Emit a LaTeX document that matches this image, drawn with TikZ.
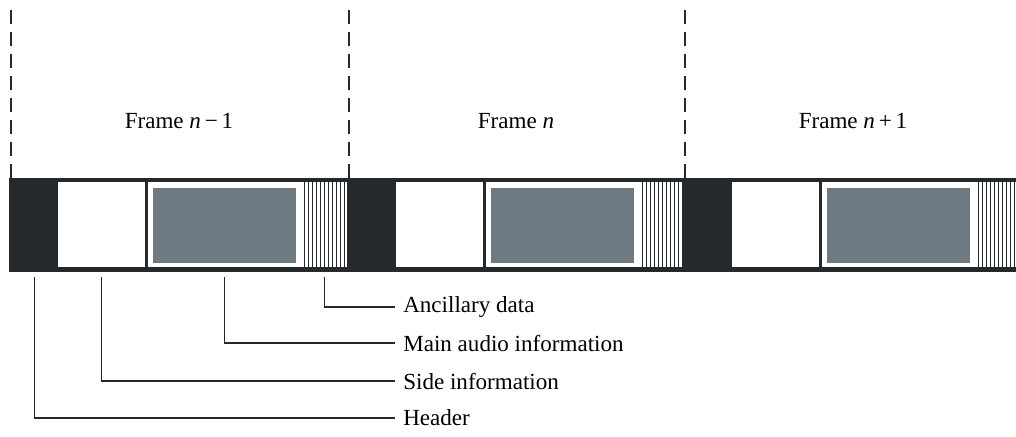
\documentclass[tikz,border=0pt]{standalone}
\usepackage{fontspec}
\setmainfont{Liberation Serif}
\newcommand\pxu{0.025cm}
\definecolor{bardark}{HTML}{25292C}
\definecolor{audiogrey}{HTML}{6E7A81}
\tikzset{%
cell/.style={anchor=north west,inner sep=0pt,draw=none,minimum height=85*\pxu},
whitecell/.style={cell,fill=white},
hdrcell/.style={cell,fill=bardark,minimum height=94*\pxu},
greycell/.style={cell,fill=audiogrey,minimum height=75*\pxu},
hatch/.style={bardark,line width=0.9pt},
sep/.style={bardark,line width=0.9pt,dash pattern=on 10pt off 5.6pt},
callout/.style={bardark,line width=0.8pt},
lbl/.style={anchor=west,inner xsep=0.2cm,inner ysep=0pt,font=\fontsize{16.4}{19.7}\selectfont},
flbl/.style={font=\fontsize{16.4}{19.7}\selectfont},
pics/.cd,
mpframe/.style={
    code={\node[hdrcell,minimum width=50*\pxu] (-hdr) at (0,0) {};
          \node[whitecell,minimum width=87*\pxu] (-side) at (49,4) {};
          \node[whitecell,minimum width=154*\pxu] (-main) at (139,4) {};
          \node[greycell,minimum width=143*\pxu] (-audio) at (144,10) {};
          \node[whitecell,minimum width=45*\pxu] (-anc) at (293,4) {};
          \foreach \i in {0,...,10} \draw[hatch] (295.5+4*\i,4) -- ++(0,85);
    }
},
}

\begin{document}
\begin{tikzpicture}[x=0.025cm,y=-0.025cm]
        \useasboundingbox (0,0) rectangle (1016,436);
        \fill[bardark] (9,178) rectangle (1030,272);
        % the three frames
        \foreach \k/\s in {1/9,2/347,3/683}{
            \pic (f\k) at (\s,178) {mpframe};
            \draw[sep] (\s+2,178) -- (\s+2,7);
        }
        \node[flbl] (fname1) at (179,121) {Frame \textit{n}\,−\,1};
        \node[flbl] (fname2) at (516,121) {Frame \textit{n}};
        \node[flbl] (fname3) at (853,121) {Frame \textit{n}\,+\,1};
        % labels under the bar
        \coordinate (barbot) at (0,277);
        \node[lbl] (lanc) at (395,307) {Ancillary data};
        \node[lbl] (laudio) at (395,343) {Main audio information};
        \node[lbl] (lside) at (395,381) {Side information};
        \node[lbl] (lhdr) at (395,418) {Header};
        \draw[callout] (f1-anc.south |- barbot) |- (lanc.west);
        \draw[callout] (f1-audio.south |- barbot) |- (laudio.west);
        \draw[callout] (f1-side.south |- barbot) |- (lside.west);
        \draw[callout] (f1-hdr.south |- barbot) |- (lhdr.west);
\end{tikzpicture}
\end{document}
